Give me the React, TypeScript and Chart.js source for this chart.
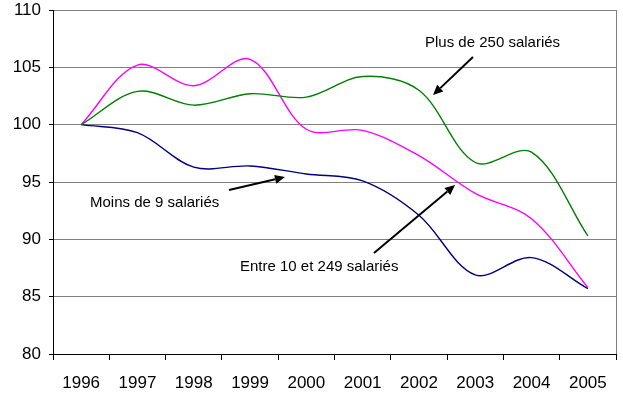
import React, { useEffect, useRef } from "react";
import { Chart, registerables } from "chart.js";

Chart.register(...registerables);

const years = ["1996", "1997", "1998", "1999", "2000", "2001", "2002", "2003", "2004", "2005"];
const plusDe250 = [100, 102.9, 101.7, 102.7, 102.4, 104.2, 103.0, 96.7, 97.6, 90.3];
const entre10et249 = [100, 105.2, 103.4, 105.7, 99.6, 99.5, 97.3, 94.0, 91.8, 85.8];
const moinsDe9 = [100, 99.3, 96.3, 96.4, 95.7, 95.1, 92.1, 86.9, 88.4, 85.7];

const FONT = "'Liberation Sans', Arial, sans-serif";

function arrow(ctx: CanvasRenderingContext2D, x1: number, y1: number, x2: number, y2: number) {
  const ang = Math.atan2(y2 - y1, x2 - x1);
  const hl = 10;
  const hw = 4.5;
  const bx = x2 - hl * Math.cos(ang);
  const by = y2 - hl * Math.sin(ang);
  ctx.save();
  ctx.strokeStyle = "#000";
  ctx.fillStyle = "#000";
  ctx.lineWidth = 2;
  ctx.beginPath();
  ctx.moveTo(x1, y1);
  ctx.lineTo(bx, by);
  ctx.stroke();
  ctx.beginPath();
  ctx.moveTo(x2, y2);
  ctx.lineTo(bx + hw * Math.sin(ang), by - hw * Math.cos(ang));
  ctx.lineTo(bx - hw * Math.sin(ang), by + hw * Math.cos(ang));
  ctx.closePath();
  ctx.fill();
  ctx.restore();
}

const annotationPlugin = {
  id: "annotations",
  beforeDatasetsDraw(chart: any) {
    const { ctx, chartArea } = chart;
    ctx.save();
    ctx.strokeStyle = "#808080";
    ctx.lineWidth = 1;
    ctx.beginPath();
    ctx.moveTo(Math.round(chartArea.right) + 0.5, chartArea.top);
    ctx.lineTo(Math.round(chartArea.right) + 0.5, chartArea.bottom);
    ctx.stroke();
    ctx.restore();
  },
  afterDraw(chart: any) {
    const ctx = chart.ctx as CanvasRenderingContext2D;
    ctx.save();
    ctx.font = `15px ${FONT}`;
    ctx.fillStyle = "#000";
    ctx.textBaseline = "alphabetic";
    ctx.textAlign = "left";
    ctx.fillText("Plus de 250 salariés", 425, 46.5);
    ctx.fillText("Moins de 9 salariés", 90, 206.5);
    ctx.fillText("Entre 10 et 249 salariés", 240, 271);
    ctx.restore();
    arrow(ctx, 473, 57, 433, 95);
    arrow(ctx, 229, 190, 285, 177);
    arrow(ctx, 374, 253, 455, 185);
  },
};

export default function App() {
  const ref = useRef<HTMLCanvasElement | null>(null);
  useEffect(() => {
    document.body.style.margin = "0";
    const canvas = ref.current;
    if (!canvas) return;
    const chart = new Chart(canvas, {
      type: "line",
      data: {
        labels: years,
        datasets: [
          { label: "Plus de 250 salariés", data: plusDe250, borderColor: "#008000", borderWidth: 1.4, pointRadius: 0, tension: 0.34, fill: false },
          { label: "Entre 10 et 249 salariés", data: entre10et249, borderColor: "#FF00FF", borderWidth: 1.4, pointRadius: 0, tension: 0.34, fill: false },
          { label: "Moins de 9 salariés", data: moinsDe9, borderColor: "#000080", borderWidth: 1.4, pointRadius: 0, tension: 0.34, fill: false },
        ],
      },
      options: {
        animation: false,
        responsive: false,
        maintainAspectRatio: false,
        layout: { padding: { top: 10, right: 7, left: 0, bottom: 0 } },
        plugins: { legend: { display: false }, tooltip: { enabled: false } },
        scales: {
          x: {
            type: "category",
            offset: true,
            grid: { offset: true, drawOnChartArea: false, drawTicks: true, tickLength: 6, color: "#000", lineWidth: 1 },
            border: { display: true, color: "#000", width: 1 },
            ticks: { autoSkip: false, maxRotation: 0, minRotation: 0, padding: 13, color: "#000", font: { family: FONT, size: 17 } },
            afterFit: (s: any) => { s.height = 43; s.paddingLeft = 0; s.paddingRight = 0; },
          },
          y: {
            min: 80,
            max: 110,
            ticks: { stepSize: 5, padding: 8, color: "#000", font: { family: FONT, size: 17 } },
            grid: {
              color: (c: any) => (c.tick && c.tick.value === 80 ? "#000" : "#808080"),
              tickColor: "#000",
              tickLength: 4,
              lineWidth: 1,
            },
            border: { display: true, color: "#000", width: 1 },
            afterFit: (s: any) => { s.width = 53; s.paddingTop = 0; s.paddingBottom = 0; },
          },
        },
      },
      plugins: [annotationPlugin],
    });
    return () => chart.destroy();
  }, []);
  return <canvas ref={ref} width={623} height={397} style={{ display: "block" }} />;
}
